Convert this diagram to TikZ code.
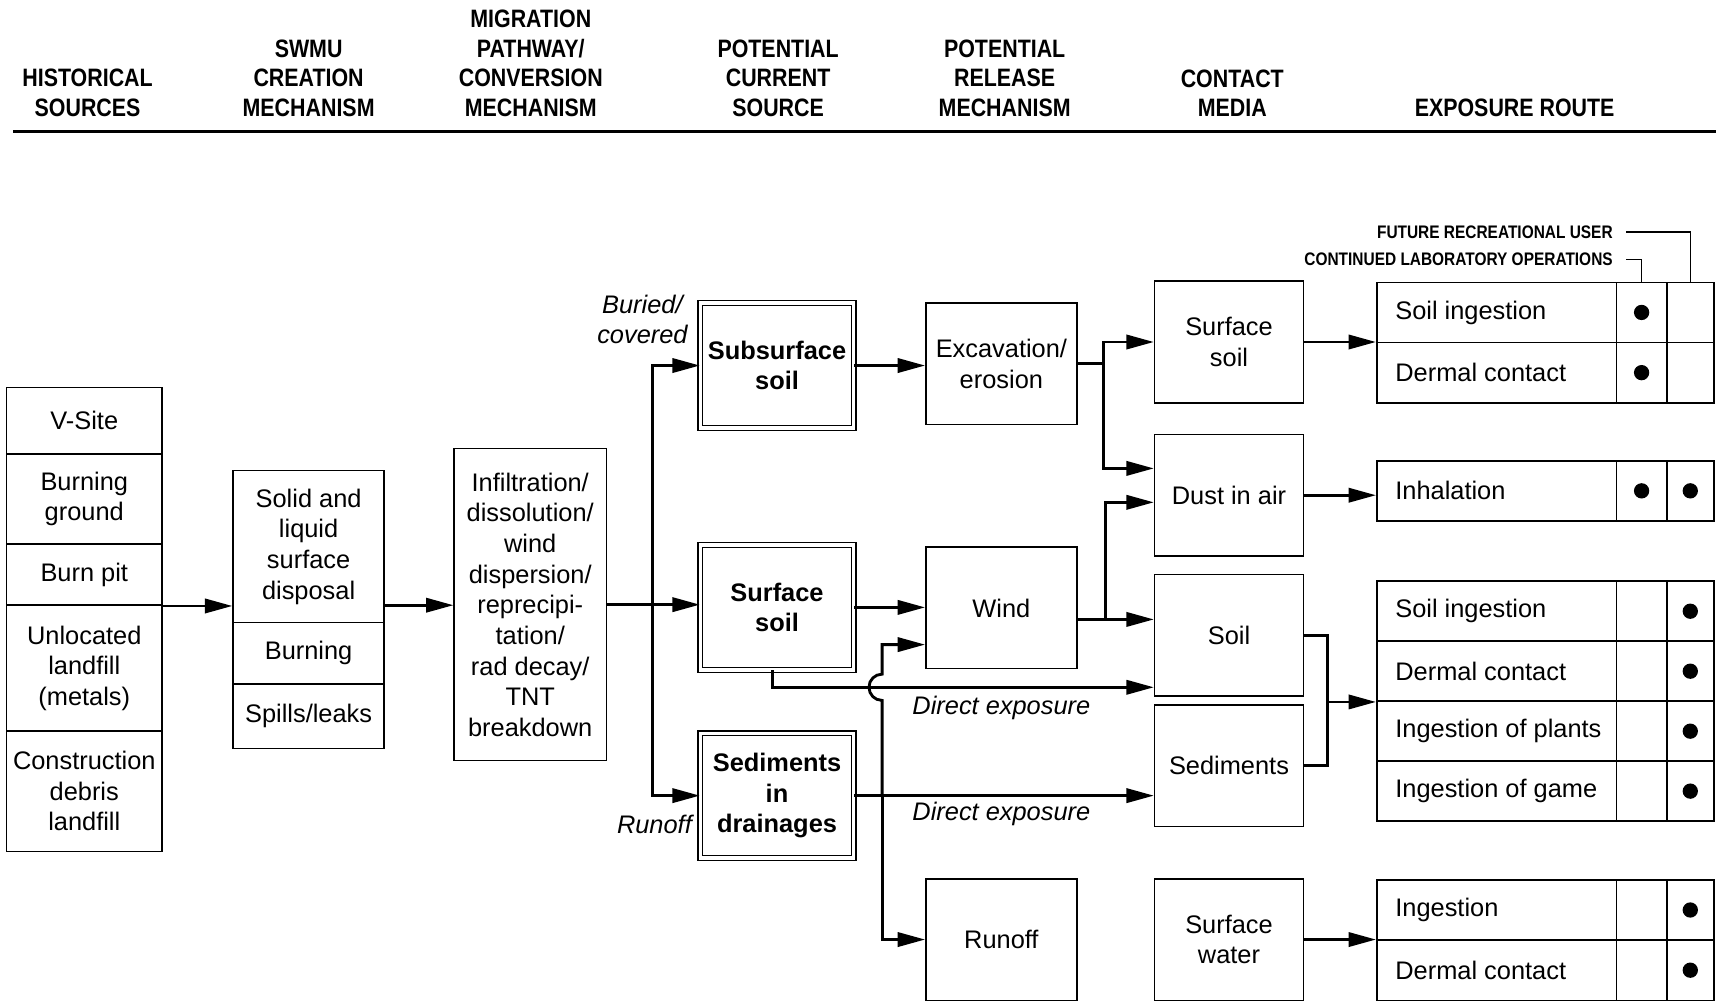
\documentclass[tikz,border=0pt]{standalone}
\usepackage{fontspec}
\setmainfont{Liberation Sans}
\newfontfamily\headfont[FakeStretch=0.85]{Liberation Sans}
\usetikzlibrary{arrows.meta,calc}
\begin{document}
\begin{tikzpicture}[x=0.5pt,y=-0.5pt,
  box/.style={draw, line width=0.7pt, inner sep=0pt, align=center, font=\fontsize{11.6}{14}\selectfont},
  dbox/.style={box, double, line width=0.55pt, double distance=1.6pt, minimum width=70pt, minimum height=57pt, font=\bfseries\fontsize{11.6}{14}\selectfont},
  hbox/.style={box, minimum width=71pt},
  sbox/.style={box, minimum width=69pt},
  rbox/.style={box, minimum width=69pt, minimum height=55.5pt},
  mbox/.style={box, minimum width=68pt, minimum height=55.5pt},
  exrow/.style={draw, line width=0.7pt, inner xsep=8.5pt, inner ysep=0pt, minimum width=109.5pt, font=\fontsize{11.6}{14}\selectfont},
  dotcell/.style={draw, line width=0.7pt, inner sep=0pt},
  conn/.style={line width=1.3pt},
  arr/.style={conn, -{Triangle[length=12.5pt,width=6.5pt]}},
  head/.style={inner sep=0pt, align=center, anchor=south, font=\headfont\bfseries\fontsize{11.5}{13.5}\selectfont},
  lab/.style={inner sep=0pt, align=center, font=\itshape\fontsize{11.6}{14}\selectfont},
  leg/.style={inner sep=0pt, anchor=east, font=\headfont\bfseries\fontsize{8.3}{10}\selectfont},
]
\useasboundingbox (0,0) rectangle (1568,916);

% headings
\node[head] (h1) at (80,107) {HISTORICAL\\SOURCES};
\node[head] (h2) at (282,107) {SWMU\\CREATION\\MECHANISM};
\node[head] (h3) at (485,107) {MIGRATION\\PATHWAY/\\CONVERSION\\MECHANISM};
\node[head] (h4) at (711,107) {POTENTIAL\\CURRENT\\SOURCE};
\node[head] (h5) at (918,107) {POTENTIAL\\RELEASE\\MECHANISM};
\node[head] (h6) at (1126,107) {CONTACT\\MEDIA};
\node[head] (h7) at (1384,107) {EXPOSURE ROUTE};
\coordinate (rl) at (12,120);
\coordinate (rr) at (1568,120);
\draw[line width=1.5pt] (rl) -- (rr);

% historical sources
\node[hbox, minimum height=30.5pt] (hs1) at (77,384.5) {V-Site};
\node[hbox, minimum height=41pt] (hs2) at (77,456) {Burning\\ground};
\node[hbox, minimum height=28pt] (hs3) at (77,525) {Burn pit};
\node[hbox, minimum height=57.5pt] (hs4) at (77,610.5) {Unlocated\\landfill\\(metals)};
\node[hbox, minimum height=55pt] (hs5) at (77,723) {Construction\\debris\\landfill};

% SWMU
\node[sbox, minimum height=69.5pt] (sw1) at (282,499.5) {Solid and\\liquid\\surface\\disposal};
\node[sbox, minimum height=28pt] (sw2) at (282,597) {Burning};
\node[sbox, minimum height=29.5pt] (sw3) at (282,654.5) {Spills/leaks};

% migration
\node[box, minimum width=69.5pt, minimum height=142.5pt] (mig) at (484.5,552.5)
  {Infiltration/\\dissolution/\\wind\\dispersion/\\reprecipi-\\tation/\\rad decay/\\TNT\\breakdown};

% potential current source
\node[dbox] (cs1) at (710,334) {Subsurface\\soil};
\node[dbox] (cs2) at (710,555) {Surface\\soil};
\node[dbox] (cs3) at (710,727) {Sediments\\in\\drainages};

% release mechanism
\node[rbox] (rm1) at (915,332.5) {Excavation/\\erosion};
\node[rbox] (rm2) at (915,555.5) {Wind};
\node[rbox] (rm3) at (915,858.5) {Runoff};

% contact media
\node[mbox] (cm1) at (1123,312.5) {Surface\\soil};
\node[mbox] (cm2) at (1123,452.5) {Dust in air};
\node[mbox] (cm3) at (1123,580.5) {Soil};
\node[mbox] (cm4) at (1123,699.5) {Sediments};
\node[mbox] (cm5) at (1123,858.5) {Surface\\water};

% exposure route tables
\foreach \n/\y/\h/\t/\a/\b in {
  1/285.5/27.5/Soil ingestion/1/0,
  2/340.5/27.5/Dermal contact/1/0,
  3/448.5/27.5/Inhalation/1/1,
  4/558.5/27.4/Soil ingestion/0/1,
  5/613.3/27.4/Dermal contact/0/1,
  6/668.1/27.4/Ingestion of plants/0/1,
  7/722.9/27.4/Ingestion of game/0/1,
  8/831.5/27.5/Ingestion/0/1,
  9/886.5/27.5/Dermal contact/0/1}{
  \node[exrow, minimum height=\h pt] (e\n) at (1367.5,\y) {\makebox[92.5pt][l]{\t}};
  \node[dotcell, minimum width=23pt, minimum height=\h pt] (c\n) at (1500,\y) {};
  \node[dotcell, minimum width=21.5pt, minimum height=\h pt] (d\n) at (1544.5,\y) {};
  \ifnum\a=1 \fill (c\n.center) circle (3.5pt);\fi
  \ifnum\b=1 \fill (d\n.center) circle (3.5pt);\fi
}

% legend
\node[leg] (lg1) at (1474,212) {FUTURE RECREATIONAL USER};
\node[leg] (lg2) at (1474,237) {CONTINUED LABORATORY OPERATIONS};
\draw[line width=0.7pt] ([xshift=6pt]lg1.east) -| (d1.north);
\draw[line width=0.7pt] ([xshift=6pt]lg2.east) -| (c1.north);

% connectors
\coordinate (ymain) at (0,553);
\draw[arr] (hs3.south east) -- (hs3.south east -| sw1.west);
\draw[arr] (ymain -| sw1.east) -- (ymain -| mig.west);
\draw[arr] (mig.east) -- (mig.east -| cs2.west);
\coordinate (jx) at (596,0);
\draw[arr] (jx |- cs3.west) |- (cs1.west);
\draw[arr] (jx |- cs1.west) |- (cs3.west);
\node[lab] (lbur) at (587,292) {Buried/\\covered};
\node[lab] (lrun) at (598,753) {Runoff};

\draw[arr] (cs1.east) -- (cs1.east -| rm1.west);
\draw[arr] (cs2.east) -- (cs2.east -| rm2.west);
\coordinate (dey) at (0,628);
\draw[arr] ([xshift=-2pt]cs2.south) |- (dey -| cm3.west);
\node[lab] (lde1) at (915,647) {Direct exposure};
\draw[arr] (cs3.east) -- (cs3.east -| cm4.west);
\node[lab] (lde2) at (915,744) {Direct exposure};

\coordinate (vx) at (806,0);
\draw[arr] (cs3.east -| vx) -- (806,640) arc[start angle=270,end angle=90,radius=6pt] |- ($(rm2.west)+(0,33.5)$);
\draw[arr] (cs3.east -| vx) |- (rm3.west);

\coordinate (ex) at (1008,0);
\draw[arr] (rm1.east) -- (rm1.east -| ex) |- (cm1.west);
\draw[arr] (rm1.east -| ex) |- ($(cm2.west)+(0,-24.5)$);
\coordinate (wy) at ($(rm2.east)+(0,10.5)$);
\draw[arr] (wy) -- (wy -| cm3.west);
\coordinate (wx) at (1010,0);
\draw[arr] (wy -| wx) |- ($(cm2.west)+(0,6.5)$);

\draw[arr] (cm1.east) -- (cm1.east -| e1.west);
\draw[arr] (cm2.east) -- (cm2.east -| e3.west);
\coordinate (sx) at (1213,0);
\draw[conn] (cm3.east) -| (sx |- cm4.east) -- (cm4.east);
\draw[arr] (sx |- e5.south west) -- (e5.south west);
\draw[arr] (cm5.east) -- (cm5.east -| e8.west);
\end{tikzpicture}
\end{document}
